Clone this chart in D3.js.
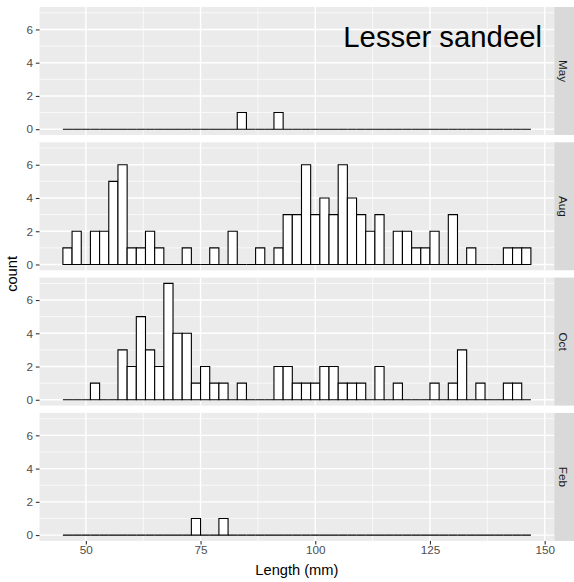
<!DOCTYPE html>
<html>
<head>
<meta charset="utf-8">
<script src="https://cdn.jsdelivr.net/npm/d3@7"></script>
<style>
  html, body { margin: 0; padding: 0; background: #fff; }
  svg { display: block; font-family: "Liberation Sans", Arial, sans-serif; }
</style>
</head>
<body>
<svg id="chart" width="574" height="582"></svg>
<script>
// Length-frequency histograms of lesser sandeel by sampling month (2 mm bins from 45 to 147 mm)
const months = ["May", "Aug", "Oct", "Feb"];
const binStart = 45;
const binWidth = 2;

const countsMay = [0,0,0,0,0,0,0,0,0,0, 0,0,0,0,0,0,0,0,0,1, 0,0,0,1,0,0,0,0,0,0, 0,0,0,0,0,0,0,0,0,0, 0,0,0,0,0,0,0,0,0,0, 0];
const countsAug = [1,2,0,2,2,5,6,1,1,2, 1,0,0,1,0,0,1,0,2,0, 0,1,0,1,3,3,6,3,4,3, 6,4,3,2,3,0,2,2,1,1, 2,0,3,0,1,0,0,0,1,1, 1];
const countsOct = [0,0,0,1,0,0,3,2,5,3, 2,7,4,4,1,2,1,1,0,1, 0,0,0,2,2,1,1,1,2,2, 1,1,1,0,2,0,1,0,0,0, 1,0,1,3,0,1,0,0,1,1, 0];
const countsFeb = [0,0,0,0,0,0,0,0,0,0, 0,0,0,0,1,0,0,1,0,0, 0,0,0,0,0,0,0,0,0,0, 0,0,0,0,0,0,0,0,0,0, 0,0,0,0,0,0,0,0,0,0, 0];
const seriesCounts = [countsMay, countsAug, countsOct, countsFeb];

const xTicks = [50, 75, 100, 125, 150];
const xMinor = [62.5, 87.5, 112.5, 137.5];
const yTicks = [0, 2, 4, 6];
const yMinor = [1, 3, 5, 7];

const svg = d3.select("#chart");

const panelLeft = 39.5, panelRight = 554.3;
const panelTop0 = 7, panelH = 128, panelGap = 7.3;
const stripW = 20;

const x = d3.scaleLinear().domain([39.9, 152.1]).range([panelLeft, panelRight]);

months.forEach((m, pi) => {
  const top = panelTop0 + pi * (panelH + panelGap);
  const y = d3.scaleLinear().domain([-0.35, 7.35]).range([top + panelH, top]);
  const g = svg.append("g");

  // panel background
  g.append("rect")
    .attr("x", panelLeft).attr("y", top)
    .attr("width", panelRight - panelLeft).attr("height", panelH)
    .attr("fill", "#EBEBEB");

  // minor grid
  g.selectAll(".ymin").data(yMinor).join("line")
    .attr("x1", panelLeft).attr("x2", panelRight)
    .attr("y1", d => y(d)).attr("y2", d => y(d))
    .attr("stroke", "#fff").attr("stroke-width", 0.7);
  g.selectAll(".xmin").data(xMinor).join("line")
    .attr("y1", top).attr("y2", top + panelH)
    .attr("x1", d => x(d)).attr("x2", d => x(d))
    .attr("stroke", "#fff").attr("stroke-width", 0.7);
  // major grid
  g.selectAll(".ymaj").data(yTicks).join("line")
    .attr("x1", panelLeft).attr("x2", panelRight)
    .attr("y1", d => y(d)).attr("y2", d => y(d))
    .attr("stroke", "#fff").attr("stroke-width", 1.4);
  g.selectAll(".xmaj").data(xTicks).join("line")
    .attr("y1", top).attr("y2", top + panelH)
    .attr("x1", d => x(d)).attr("x2", d => x(d))
    .attr("stroke", "#fff").attr("stroke-width", 1.4);

  // histogram bins (zero-count bins collapse to a line on the baseline)
  const bins = seriesCounts[pi].map((c, i) => ({
    x0: binStart + i * binWidth,
    x1: binStart + (i + 1) * binWidth,
    count: c
  }));
  g.selectAll(".bin").data(bins).join("path")
    .attr("d", d => {
      const a = x(d.x0), b = x(d.x1), y0 = y(0), y1 = y(d.count);
      return `M${a},${y0}H${b}V${y1}H${a}Z`;
    })
    .attr("fill", "#fff")
    .attr("stroke", "#000")
    .attr("stroke-width", 1.1);

  // y axis
  const ya = svg.append("g")
    .attr("transform", `translate(${panelLeft},0)`)
    .call(d3.axisLeft(y).tickValues(yTicks).tickSize(3.67).tickPadding(2.93).tickFormat(d3.format("d")));
  ya.select(".domain").remove();
  ya.selectAll(".tick line").attr("stroke", "#333333").attr("stroke-width", 1.1);
  ya.selectAll(".tick text")
    .attr("fill", "#4D4D4D").attr("font-size", 11.73)
    .attr("font-family", "Liberation Sans, Arial, sans-serif");

  // facet strip on the right
  svg.append("rect")
    .attr("x", panelRight).attr("y", top)
    .attr("width", stripW).attr("height", panelH)
    .attr("fill", "#D9D9D9");
  svg.append("text")
    .attr("transform", `translate(${panelRight + 9.3},${top + panelH / 2}) rotate(90)`)
    .attr("text-anchor", "middle")
    .attr("dy", "0.35em")
    .attr("font-size", 11.73)
    .attr("fill", "#1A1A1A")
    .text(m);

  if (pi === months.length - 1) {
    const xa = svg.append("g")
      .attr("transform", `translate(0,${top + panelH})`)
      .call(d3.axisBottom(x).tickValues(xTicks).tickSize(3.67).tickPadding(2.93).tickFormat(d3.format("d")));
    xa.select(".domain").remove();
    xa.selectAll(".tick line").attr("stroke", "#333333").attr("stroke-width", 1.1);
    xa.selectAll(".tick text")
      .attr("fill", "#4D4D4D").attr("font-size", 11.73)
      .attr("dy", "0.52em")
      .attr("font-family", "Liberation Sans, Arial, sans-serif");
  }
});

// axis titles
svg.append("text")
  .attr("x", (panelLeft + panelRight) / 2).attr("y", 575)
  .attr("text-anchor", "middle")
  .attr("font-size", 14.67).attr("fill", "#000")
  .text("Length (mm)");

const panelsMid = (panelTop0 + panelTop0 + 4 * panelH + 3 * panelGap) / 2;
svg.append("text")
  .attr("transform", `translate(17,${panelsMid}) rotate(-90)`)
  .attr("text-anchor", "middle")
  .attr("font-size", 14.67).attr("fill", "#000")
  .text("count");

// species label
svg.append("text")
  .attr("x", 542).attr("y", 46.5)
  .attr("text-anchor", "end")
  .attr("font-size", 29.3).attr("fill", "#000")
  .text("Lesser sandeel");
</script>
</body>
</html>
